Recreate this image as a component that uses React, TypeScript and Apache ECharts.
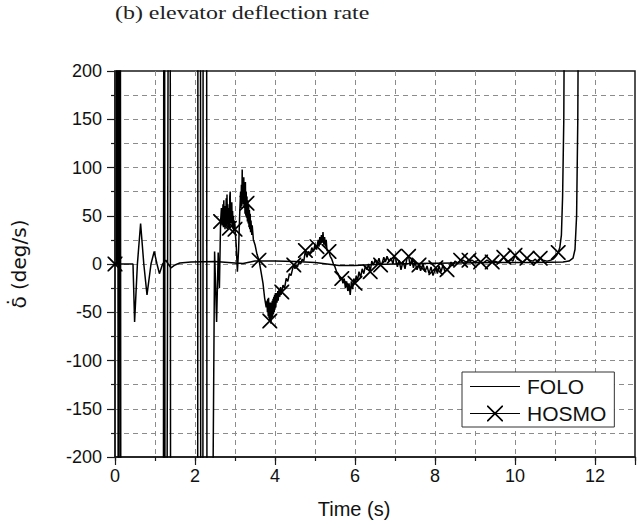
import React, { useEffect, useRef } from 'react';
import * as echarts from 'echarts';

const titleText = '(b) elevator deflection rate';
const xName = 'Time (s)';
const yName = 'δ̇ (deg/s)';
const xTickLabels = [0, 2, 4, 6, 8, 10, 12];

// FOLO (thin line) : [time, rate]
const folo: [number, number][] = [
  [0, 0], [0.45, 0], [0.49, -60], [0.56, 0], [0.64, 42], [0.72, 0], [0.8, -32], [0.9, 0],
  [0.98, 13], [1.05, 0], [1.11, -10], [1.19, 0], [1.27, 4], [1.33, 0], [1.4, -4], [1.5, -1],
  [1.62, 1], [1.9, 2], [2.5, 2.5], [3.0, 1], [3.2, 0.5], [3.5, 3], [4.0, 3], [4.5, 2.5],
  [5.0, 1.5], [5.3, 0], [5.6, -1.5], [6.0, -1.5], [6.5, -0.5], [7.5, 0.5], [8.5, 1], [9.5, 1.5],
  [10.5, 1.5], [11.2, 2], [11.35, 3], [11.45, 6], [11.5, 15], [11.54, 50], [11.57, 150], [11.6, 400],
];

// HOSMO line : [time, rate]
const hosmoLine: [number, number][] = [
  [0, 0], [0.04, 0], [0.06, 1000], [0.09, -1000], [0.12, 1000], [0.16, -1000],
  [1.2, -1000], [1.23, 1000], [1.26, -1000], [1.37, 1000], [1.4, -1000],
  [2.06, -1000], [2.08, 1000], [2.13, 1000], [2.15, -1000], [2.19, -1000], [2.21, 1000],
  [2.28, 1000], [2.31, -1000], [2.42, -400],
  [2.49, 13], [2.54, -60], [2.58, 12], [2.61, -25], [2.64, 44], [2.66, 58], [2.68, 40], [2.7, 62],
  [2.71, 38], [2.72, 66], [2.73, 42], [2.74, 55], [2.75, 36], [2.76, 60], [2.77, 44], [2.78, 68],
  [2.79, 40], [2.8, 72], [2.81, 45], [2.82, 62], [2.83, 38], [2.84, 58], [2.85, 40], [2.86, 37],
  [2.87, 70], [2.88, 75], [2.89, 42], [2.9, 60], [2.91, 45], [2.92, 64], [2.93, 38], [2.94, 55],
  [2.95, 36], [2.96, 50], [2.97, 34], [2.98, 45], [3.0, 38], [3.03, 20], [3.06, -8],
  [3.09, 15], [3.12, 55], [3.14, 75], [3.15, 58], [3.16, 82], [3.17, 60], [3.18, 98], [3.19, 66],
  [3.2, 88], [3.21, 62], [3.22, 90], [3.23, 58], [3.24, 80], [3.25, 52], [3.26, 85], [3.27, 50],
  [3.28, 75], [3.29, 48], [3.3, 70], [3.31, 44], [3.32, 66], [3.33, 42], [3.34, 62], [3.35, 38],
  [3.36, 56], [3.37, 36], [3.38, 52], [3.39, 33], [3.4, 45], [3.42, 30], [3.43, 40], [3.46, 25],
  [3.5, 20], [3.55, 10],
  [3.65, -8], [3.7, -20], [3.74, -35], [3.78, -45], [3.8, -38], [3.81, -50], [3.82, -36],
  [3.83, -54], [3.84, -35], [3.85, -56], [3.86, -40], [3.88, -58], [3.89, -40], [3.9, -62],
  [3.91, -42], [3.92, -56], [3.93, -38], [3.94, -55], [3.95, -36], [3.96, -52], [3.97, -34],
  [3.98, -50], [3.99, -32], [4.0, -46], [4.01, -30], [4.02, -45], [4.04, -30], [4.05, -40],
  [4.07, -28], [4.08, -38], [4.1, -26], [4.12, -34], [4.14, -24], [4.15, -32], [4.2, -22],
  [4.24, -25], [4.28, -15], [4.32, -18], [4.36, -10], [4.4, -12], [4.44, -5], [4.5, -5],
  [4.52, -1], [4.56, -3], [4.6, 2], [4.64, 0], [4.68, 5], [4.72, 3], [4.8, 7], [4.84, 13],
  [4.88, 10], [4.92, 17], [4.96, 13], [5.0, 20], [5.04, 15], [5.08, 25], [5.1, 18], [5.12, 28],
  [5.14, 20], [5.16, 30], [5.18, 22], [5.2, 33], [5.22, 20], [5.24, 28], [5.26, 18], [5.28, 25],
  [5.3, 14], [5.38, 8], [5.42, 5], [5.46, 0], [5.5, -3], [5.54, -8], [5.58, -10], [5.62, -15],
  [5.7, -20], [5.73, -15], [5.76, -25], [5.79, -18], [5.82, -28], [5.85, -20], [5.88, -32],
  [5.91, -18], [5.94, -26], [5.97, -15], [6.03, -12], [6.06, -18], [6.1, -8], [6.14, -14],
  [6.18, -5], [6.22, -10], [6.26, -2], [6.3, -6], [6.34, 0], [6.42, 3], [6.46, -1], [6.5, 4],
  [6.55, 0], [6.6, 6], [6.68, 1], [6.72, 7], [6.76, 2], [6.8, 8], [6.85, 3], [6.9, 6], [6.95, 0],
  [7.02, 5], [7.06, -3], [7.1, 4], [7.15, -6], [7.2, 3], [7.25, -5], [7.3, 6], [7.38, -2],
  [7.42, 5], [7.46, -4], [7.5, 2], [7.55, -6], [7.64, -7], [7.7, 0], [7.75, -8], [7.8, -2],
  [7.85, -10], [7.9, -3], [7.95, -12], [8.06, -10], [8.1, -2], [8.15, -8], [8.2, -1], [8.25, -8],
  [8.35, -4], [8.4, 2], [8.45, -2], [8.5, 3], [8.58, 1], [8.7, 4], [8.78, 2], [8.92, 4],
  [9.0, 2], [9.08, 4], [9.2, 1], [9.3, 4], [9.38, 2], [9.5, 3], [9.6, 1], [9.66, 4], [9.8, 2],
  [9.9, 5], [9.95, 3], [10.06, 5], [10.2, 2], [10.36, 4], [10.45, 3], [10.5, 5], [10.58, 2],
  [10.7, 4], [10.8, 3], [10.9, 4], [10.95, 5], [11.0, 7], [11.04, 9], [11.12, 17], [11.16, 30],
  [11.19, 70], [11.22, 150], [11.25, 400],
];

// HOSMO marker points : [time, rate]
const hosmoMarkers: [number, number][] = [
  [0, 0], [2.64, 44], [2.86, 37], [3.0, 36], [3.3, 63], [3.6, 4], [3.87, -59], [4.17, -29],
  [4.47, -1], [4.76, 14], [5.05, 18], [5.35, 13], [5.67, -15], [6.0, -20], [6.38, -8],
  [6.64, -1], [6.98, 8], [7.34, 8], [7.6, -1], [8.02, -4], [8.3, -6], [8.64, 4], [8.85, 4],
  [9.14, 2], [9.43, 2], [9.72, 7], [10.0, 9], [10.3, 6], [10.63, 6], [11.08, 12],
];

const X_SYMBOL =
  'path://M0,0L1.3,0L16,14.7L16,16L14.7,16L0,1.3Z M16,0L16,1.3L1.3,16L0,16L0,14.7L14.7,0Z';
const FOLO_ICON =
  'path://M0,0L0.01,0L0.01,0.01Z M50,16L49.99,16L49.99,15.99Z M0,7.4L50,7.4L50,8.6L0,8.6Z';
const HOSMO_ICON =
  'path://M0,7.4L50,7.4L50,8.6L0,8.6Z M17,0L18.2,0L33,14.8L33,16L31.8,16L17,1.2Z M33,0L33,1.2L18.2,16L17,16L17,14.8L31.8,0Z';

const SANS = '"Liberation Sans", Arial, sans-serif';
const gridLine = { type: [5, 4] as number[], color: '#8c8c8c', width: 1 };
const axisDark = { color: '#1a1a1a', width: 1.5 };

export default function App() {
  const ref = useRef<HTMLDivElement>(null);
  useEffect(() => {
    if (!ref.current) return;
    const chart = echarts.init(ref.current, undefined, { renderer: 'svg' });
    const hosmoData = [
      ...hosmoLine.map((p) => ({ value: p, symbol: 'none' })),
      ...hosmoMarkers.map((p) => ({ value: p })),
    ].sort((a, b) => a.value[0] - b.value[0]);

    chart.setOption({
      animation: false,
      backgroundColor: '#fff',
      textStyle: { fontFamily: SANS },
      graphic: [
        {
          type: 'text',
          x: 115,
          y: 4,
          scaleX: 1.33,
          style: {
            text: titleText,
            font: '18px "Liberation Serif", "Times New Roman", serif',
            fill: '#222',
            textVerticalAlign: 'top',
          },
        },
      ],
      grid: {
        left: 115,
        right: 1,
        top: 71,
        bottom: 71,
        show: true,
        borderColor: '#1a1a1a',
        borderWidth: 1.5,
        backgroundColor: 'transparent',
      },
      legend: {
        left: 462,
        top: 372,
        orient: 'vertical',
        itemWidth: 50,
        itemHeight: 16,
        itemGap: 6,
        padding: [4, 8, 3, 8],
        backgroundColor: '#fff',
        borderColor: '#333',
        borderWidth: 1,
        borderRadius: 0,
        selectedMode: false,
        textStyle: { fontSize: 21, color: '#111', fontFamily: SANS, padding: [0, 0, 0, 2] },
        data: [
          { name: 'FOLO', icon: FOLO_ICON },
          { name: 'HOSMO', icon: HOSMO_ICON },
        ],
      },
      xAxis: [
        {
          type: 'value',
          min: 0,
          max: 13,
          interval: 1,
          name: xName,
          nameLocation: 'middle',
          nameGap: 42,
          nameTextStyle: { fontSize: 20, color: '#111', padding: [0, 42, 0, 0] },
          axisLine: { show: true, onZero: false, lineStyle: axisDark },
          axisTick: { show: true, inside: false, length: 4, lineStyle: { color: '#1a1a1a', width: 1.2 } },
          axisLabel: {
            fontSize: 18,
            color: '#111',
            margin: 10,
            formatter: (v: number) => (xTickLabels.includes(v) ? String(v) : ''),
          },
          splitLine: { show: true, showMinLine: false, showMaxLine: false, lineStyle: gridLine },
        },
        {
          type: 'value',
          min: 0,
          max: 13,
          interval: 2,
          position: 'bottom',
          axisLine: { show: false, onZero: false },
          axisTick: { show: true, inside: false, length: 8, lineStyle: { color: '#1a1a1a', width: 1.2 } },
          axisLabel: { show: false },
          splitLine: { show: false },
        },
      ],
      yAxis: {
        type: 'value',
        min: -200,
        max: 200,
        interval: 50,
        name: yName,
        nameLocation: 'middle',
        nameGap: 86,
        nameTextStyle: { fontSize: 20, color: '#111', fontFamily: '"DejaVu Sans", sans-serif' },
        axisLine: { show: true, onZero: false, lineStyle: axisDark },
        axisTick: { show: true, inside: false, length: 8, lineStyle: { color: '#1a1a1a', width: 1.2 } },
        minorTick: { show: true, splitNumber: 2, length: 4, lineStyle: { color: '#1a1a1a', width: 1.2 } },
        axisLabel: { fontSize: 18, color: '#111', margin: 13 },
        splitLine: { show: true, showMinLine: false, showMaxLine: false, lineStyle: gridLine },
        minorSplitLine: { show: true, lineStyle: gridLine },
      },
      series: [
        {
          name: 'FOLO',
          type: 'line',
          data: folo,
          symbol: 'none',
          showSymbol: false,
          clip: true,
          itemStyle: { color: '#000' },
          lineStyle: { color: '#000', width: 1.5 },
          z: 3,
        },
        {
          name: 'HOSMO',
          type: 'line',
          data: hosmoData,
          symbol: X_SYMBOL,
          symbolSize: 15,
          symbolKeepAspect: true,
          showSymbol: true,
          showAllSymbol: true,
          clip: true,
          itemStyle: { color: '#000' },
          lineStyle: { color: '#000', width: 1.5 },
          z: 4,
        },
      ],
    });
    return () => chart.dispose();
  }, []);
  return (
    <div
      ref={ref}
      style={{ position: 'fixed', left: 0, top: 0, width: 638, height: 528 }}
    />
  );
}
